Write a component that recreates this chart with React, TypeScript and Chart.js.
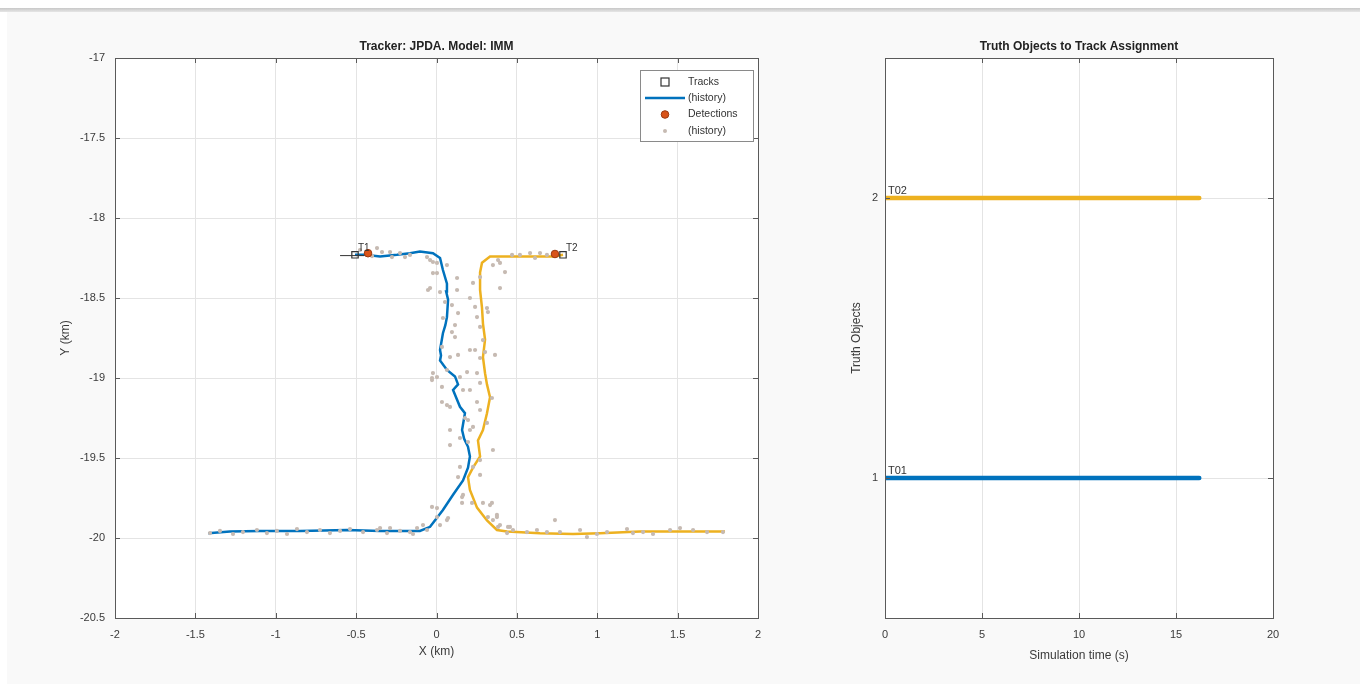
import React, { useEffect, useRef } from "react";
import { Chart, registerables } from "chart.js";

Chart.register(...registerables);

// ---------------- Left plot data (km) ----------------
const blueTrackX = [-1.42, -1.285, -1.098, -0.849, -0.557, -0.351, -0.103, -0.04, 0.04, 0.103, 0.165, 0.196, 0.208, 0.196, 0.172, 0.159, 0.177, 0.146, 0.103, 0.134, 0.115, 0.065, 0.022, 0.028, 0.022, 0.04, 0.055, 0.065, 0.072, 0.06, 0.065, 0.04, 0.022, -0.022, -0.103, -0.165, -0.246, -0.351, -0.445, -0.507];
const blueTrackY = [-19.97, -19.96, -19.956, -19.956, -19.95, -19.956, -19.956, -19.93, -19.825, -19.73, -19.64, -19.56, -19.49, -19.43, -19.38, -19.325, -19.22, -19.18, -19.075, -19.04, -18.99, -18.95, -18.89, -18.86, -18.825, -18.72, -18.67, -18.62, -18.51, -18.46, -18.41, -18.325, -18.25, -18.22, -18.21, -18.22, -18.23, -18.24, -18.23, -18.23];

const yellowTrackX = [1.795, 1.683, 1.266, 1.017, 0.849, 0.644, 0.439, 0.376, 0.314, 0.252, 0.208, 0.196, 0.227, 0.271, 0.258, 0.289, 0.314, 0.333, 0.314, 0.302, 0.289, 0.302, 0.289, 0.283, 0.271, 0.271, 0.283, 0.333, 0.439, 0.519, 0.644, 0.737, 0.787];
const yellowTrackY = [-19.96, -19.96, -19.96, -19.97, -19.975, -19.97, -19.96, -19.95, -19.89, -19.81, -19.7, -19.62, -19.56, -19.49, -19.39, -19.325, -19.22, -19.12, -19.04, -18.97, -18.87, -18.76, -18.66, -18.56, -18.45, -18.34, -18.28, -18.24, -18.24, -18.24, -18.24, -18.24, -18.23];

const detHistX = [-1.409, -1.347, -1.266, -1.204, -1.117, -1.055, -0.993, -0.93, -0.868, -0.806, -0.725, -0.663, -0.6, -0.538, -0.457, -0.37, -0.308, -0.227, -0.146, -0.059, -0.028, 0.003, 0.065,
  -0.351, -0.289, -0.165, -0.121, -0.084, 0.022, 0.003, 0.072,
  -0.028, 0.034, 0.165, 0.208, 0.034, 0.065, 0.084, 0.177, 0.196, 0.084, 0.208, 0.146, 0.196, 0.084, 0.227, 0.252, 0.271, 0.345, 0.314, 0.351, 0.271, 0.227, 0.271, 0.146, 0.134, 0.165, 0.159, 0.221, 0.289, 0.333, 0.376, 0.351, 0.383, 0.445, 0.476,
  -0.289, -0.277, -0.196, -0.059, -0.022, -0.022, 0.003, 0.065, -0.04, -0.053, 0.022, 0.128, 0.128, 0.053, 0.096, 0.134, 0.04, 0.115, 0.096, 0.115, 0.034, 0.084, 0.134, 0.065, -0.022, -0.028, 0.003, 0.146, 0.19,
  0.227, 0.271, 0.208, 0.24, 0.314, 0.32, 0.252, 0.271, 0.289, 0.208, 0.24, 0.302, 0.364, 0.271, 0.252, 0.271, 0.351, 0.395, 0.383, 0.426, 0.395, 0.47,
  -0.37, -0.227, -0.165, -0.04, 0.003, 0.519, 0.582, 0.644, 0.687, 0.613, -0.476, -0.401, -0.339,
  0.159, 0.345, 0.32, 0.376, 0.395, 0.457, 0.439, 0.563, 0.625, 0.737, 0.687, 0.768, 0.893, 0.936, 0.998, 1.061, 1.185, 1.222, 1.285, 1.347, 1.453, 1.515, 1.596, 1.683, 1.782];
const detHistY = [-19.969, -19.956, -19.975, -19.963, -19.95, -19.969, -19.956, -19.975, -19.944, -19.963, -19.95, -19.969, -19.956, -19.944, -19.963, -19.95, -19.969, -19.956, -19.975, -19.95, -19.806, -19.869, -19.888,
  -19.938, -19.938, -19.963, -19.938, -19.919, -19.919, -19.813, -19.875,
  -19.013, -19.056, -19.075, -19.075, -19.15, -19.169, -19.181, -19.25, -19.263, -19.325, -19.325, -19.375, -19.4, -19.419, -19.306, -19.15, -19.2, -19.125, -19.281, -19.45, -19.513, -19.556, -19.606, -19.556, -19.619, -19.731, -19.781, -19.781, -19.781, -19.794, -19.856, -19.888, -19.931, -19.931, -19.95,
  -18.213, -18.244, -18.244, -18.244, -18.275, -18.344, -18.344, -18.294, -18.438, -18.45, -18.463, -18.45, -18.375, -18.525, -18.544, -18.594, -18.625, -18.669, -18.713, -18.744, -18.806, -18.869, -18.856, -18.95, -18.969, -19.0, -18.994, -18.994, -18.963,
  -18.406, -18.369, -18.5, -18.556, -18.563, -18.588, -18.619, -18.681, -18.763, -18.825, -18.825, -18.838, -18.856, -18.875, -18.969, -19.031, -18.294, -18.281, -18.263, -18.338, -18.438, -18.231,
  -18.188, -18.219, -18.231, -18.263, -18.281, -18.231, -18.219, -18.219, -18.231, -18.25, -18.2, -18.238, -18.213,
  -19.744, -19.781, -19.869, -19.869, -19.919, -19.931, -19.969, -19.963, -19.95, -19.888, -19.963, -19.963, -19.95, -19.994, -19.975, -19.963, -19.944, -19.969, -19.963, -19.975, -19.95, -19.938, -19.95, -19.963, -19.963];

const trackX = [-0.507, 0.787];
const trackY = [-18.23, -18.23];
const trackLabels = ["T1", "T2"];
const trackStemX = [-0.6, -0.45];
const trackStemY = [-18.235, -18.235];

const detX = [-0.426, 0.737];
const detY = [-18.22, -18.225];

const leftXTicks = [-2, -1.5, -1, -0.5, 0, 0.5, 1, 1.5, 2];
const leftYTicks = [-20.5, -20, -19.5, -19, -18.5, -18, -17.5, -17];

// ---------------- Right plot data ----------------
const truthIds = [1, 2];
const truthLabels = ["T01", "T02"];
const assignStart = [0, 0];
const assignEnd = [16.2, 16.2];
const rightXTicks = [0, 5, 10, 15, 20];
const rightYTicks = [1, 2];

const BLUE = "#0072BD";
const YELLOW = "#EDB120";
const ORANGE = "#D95319";
const GREY_DOT = "#c6bab2";
const AXIS = "#5a5a5a";
const GRID = "#e4e4e4";
const TXT = "#3a3a3a";
const FONT = "'Liberation Sans', Arial, Helvetica, sans-serif";

Chart.defaults.font.family = FONT;
Chart.defaults.color = TXT;

const pts = (xs: number[], ys: number[]) => xs.map((x, i) => ({ x, y: ys[i] }));

const boxPlugin = {
  id: "matlabBox",
  beforeDraw(chart: any) {
    const { ctx, chartArea: a } = chart;
    ctx.save();
    ctx.fillStyle = "#ffffff";
    ctx.fillRect(a.left, a.top, a.right - a.left, a.bottom - a.top);
    ctx.restore();
  },
  afterDatasetsDraw(chart: any) {
    const { ctx, chartArea: a, scales } = chart;
    ctx.save();
    ctx.strokeStyle = AXIS;
    ctx.lineWidth = 1;
    ctx.strokeRect(Math.round(a.left) + 0.5, Math.round(a.top) + 0.5, Math.round(a.right - a.left), Math.round(a.bottom - a.top));
    const tl = 5;
    ctx.beginPath();
    scales.x.ticks.forEach((t: any) => {
      const px = Math.round(scales.x.getPixelForValue(t.value)) + 0.5;
      ctx.moveTo(px, a.bottom); ctx.lineTo(px, a.bottom - tl);
      ctx.moveTo(px, a.top); ctx.lineTo(px, a.top + tl);
    });
    scales.y.ticks.forEach((t: any) => {
      const py = Math.round(scales.y.getPixelForValue(t.value)) + 0.5;
      ctx.moveTo(a.left, py); ctx.lineTo(a.left + tl, py);
      ctx.moveTo(a.right, py); ctx.lineTo(a.right - tl, py);
    });
    ctx.stroke();
    ctx.restore();
  },
};

const leftDecor = {
  id: "leftDecor",
  afterDraw(chart: any) {
    const { ctx, scales } = chart;
    ctx.save();
    ctx.fillStyle = "#333";
    ctx.font = `10px ${FONT}`;
    ctx.textBaseline = "alphabetic";
    trackLabels.forEach((lab, i) => {
      const px = scales.x.getPixelForValue(trackX[i]);
      const py = scales.y.getPixelForValue(trackY[i]);
      ctx.fillText(lab, px + 3, py - 4);
    });
    // legend
    const L = 640, T = 70, W = 113, H = 71;
    ctx.fillStyle = "#ffffff";
    ctx.fillRect(L, T, W, H);
    ctx.strokeStyle = "#8a8a8a";
    ctx.lineWidth = 1;
    ctx.strokeRect(L + 0.5, T + 0.5, W, H);
    const rows = [82, 98, 114.5, 131];
    const mx = 665;
    ctx.strokeStyle = "#333";
    ctx.lineWidth = 1.2;
    ctx.strokeRect(mx - 4, rows[0] - 4, 8, 8);
    ctx.strokeStyle = BLUE;
    ctx.lineWidth = 2.5;
    ctx.beginPath(); ctx.moveTo(645, rows[1]); ctx.lineTo(685, rows[1]); ctx.stroke();
    ctx.fillStyle = ORANGE;
    ctx.strokeStyle = "#9a3a12";
    ctx.lineWidth = 1;
    ctx.beginPath(); ctx.arc(mx, rows[2], 3.8, 0, Math.PI * 2); ctx.fill(); ctx.stroke();
    ctx.fillStyle = GREY_DOT;
    ctx.beginPath(); ctx.arc(mx, rows[3], 2, 0, Math.PI * 2); ctx.fill();
    ctx.fillStyle = "#333";
    ctx.font = `10.5px ${FONT}`;
    ctx.textBaseline = "middle";
    ["Tracks", "(history)", "Detections", "(history)"].forEach((t, i) => {
      ctx.fillText(t, 688, rows[i]);
    });
    ctx.restore();
  },
};

const rightDecor = {
  id: "rightDecor",
  afterDraw(chart: any) {
    const { ctx, scales } = chart;
    ctx.save();
    ctx.fillStyle = "#333";
    ctx.font = `11px ${FONT}`;
    ctx.textBaseline = "bottom";
    truthLabels.forEach((lab, i) => {
      const px = scales.x.getPixelForValue(assignStart[i]);
      const py = scales.y.getPixelForValue(truthIds[i]);
      ctx.fillText(lab, px + 3, py - 2);
    });
    ctx.restore();
  },
};

const fmt = (v: any) => String(Math.round(Number(v) * 10) / 10);

function makeScales(opts: any) {
  const { xMin, xMax, xStep, yMin, yMax, yTicks, yWidth, xTitle, yTitle, xTitlePad, yTitlePad, yTickPad, xTicks } = opts;
  return {
    x: {
      type: "linear",
      min: xMin,
      max: xMax,
      afterBuildTicks: (s: any) => { s.ticks = xTicks.map((v: number) => ({ value: v })); },
      afterFit: (s: any) => { s.height = 66; },
      ticks: { stepSize: xStep, callback: fmt, padding: 10, maxRotation: 0, autoSkip: false, font: { size: 11 }, color: TXT },
      grid: { color: GRID, drawTicks: false },
      border: { display: false },
      title: { display: true, text: xTitle, font: { size: 12 }, color: TXT, padding: { top: 0, bottom: xTitlePad } },
    },
    y: {
      type: "linear",
      min: yMin,
      max: yMax,
      afterBuildTicks: (s: any) => { s.ticks = yTicks.map((v: number) => ({ value: v })); },
      afterFit: (s: any) => { s.width = yWidth; },
      ticks: { callback: fmt, padding: yTickPad, autoSkip: false, font: { size: 11 }, color: TXT },
      grid: { color: GRID, drawTicks: false },
      border: { display: false },
      title: { display: true, text: yTitle, font: { size: 12 }, color: TXT, padding: { top: yTitlePad, bottom: 0 } },
    },
  };
}

function LeftChart() {
  const ref = useRef<HTMLCanvasElement>(null);
  useEffect(() => {
    if (!ref.current) return;
    const chart = new Chart(ref.current, {
      type: "scatter",
      data: {
        datasets: [
          { label: "Tracks", data: pts(trackX, trackY), pointStyle: "rect", pointRadius: 4.5, backgroundColor: "rgba(0,0,0,0)", borderColor: "#333", borderWidth: 1.2 },
          { label: "stem", data: pts(trackStemX, trackStemY), showLine: true, pointRadius: 0, borderColor: "#333", borderWidth: 1 },
          { label: "Detections", data: pts(detX, detY), pointRadius: 3.8, backgroundColor: ORANGE, borderColor: "#9a3a12", borderWidth: 1 },
          { label: "(history)", data: pts(detHistX, detHistY), pointRadius: 2.1, backgroundColor: GREY_DOT, borderWidth: 0 },
          { label: "T1 history", data: pts(blueTrackX, blueTrackY), showLine: true, pointRadius: 0, borderColor: BLUE, borderWidth: 2.5 },
          { label: "T2 history", data: pts(yellowTrackX, yellowTrackY), showLine: true, pointRadius: 0, borderColor: YELLOW, borderWidth: 2.5 },
        ],
      },
      options: {
        responsive: false,
        animation: false,
        devicePixelRatio: 1,
        layout: { padding: { left: 0, right: 32, top: 0, bottom: 0 } },
        plugins: {
          legend: { display: false },
          tooltip: { enabled: false },
          title: { display: true, fullSize: false, text: "Tracker: JPDA. Model: IMM", font: { size: 12, weight: "bold" }, color: "#222", padding: { top: 39, bottom: 4.6 } },
        },
        scales: makeScales({ xMin: -2, xMax: 2, xStep: 0.5, yMin: -20.5, yMax: -17, yTicks: leftYTicks, xTicks: leftXTicks, yWidth: 115, xTitle: "X (km)", yTitle: "Y (km)", xTitlePad: 25, yTitlePad: 58, yTickPad: 10 }) as any,
      },
      plugins: [boxPlugin, leftDecor],
    } as any);
    return () => chart.destroy();
  }, []);
  return <canvas ref={ref} width={790} height={684} style={{ position: "absolute", left: 0, top: 0 }} />;
}

function RightChart() {
  const ref = useRef<HTMLCanvasElement>(null);
  useEffect(() => {
    if (!ref.current) return;
    const datasets = truthIds.map((id, i) => ({
      label: truthLabels[i],
      data: [{ x: assignStart[i], y: id }, { x: assignEnd[i], y: id }],
      showLine: true,
      pointRadius: 0,
      borderColor: i === 0 ? BLUE : YELLOW,
      borderWidth: 4.5,
      borderCapStyle: "round",
    }));
    const chart = new Chart(ref.current, {
      type: "scatter",
      data: { datasets },
      options: {
        responsive: false,
        animation: false,
        devicePixelRatio: 1,
        layout: { padding: { left: 0, right: 87, top: 0, bottom: 0 } },
        plugins: {
          legend: { display: false },
          tooltip: { enabled: false },
          title: { display: true, fullSize: false, text: "Truth Objects to Track Assignment", font: { size: 12, weight: "bold" }, color: "#222", padding: { top: 39, bottom: 4.6 } },
        },
        scales: makeScales({ xMin: 0, xMax: 20, xStep: 5, yMin: 0.5, yMax: 2.5, yTicks: rightYTicks, xTicks: rightXTicks, yWidth: 85, xTitle: "Simulation time (s)", yTitle: "Truth Objects", xTitlePad: 21, yTitlePad: 49, yTickPad: 7 }) as any,
      },
      plugins: [boxPlugin, rightDecor],
    } as any);
    return () => chart.destroy();
  }, []);
  return <canvas ref={ref} width={560} height={684} style={{ position: "absolute", left: 800, top: 0 }} />;
}

export default function App() {
  return (
    <div style={{ position: "fixed", left: 0, top: 0, width: 1360, height: 684, background: "#ffffff", overflow: "hidden" }}>
      <div style={{ position: "absolute", left: 0, top: 8, width: 1360, height: 4, background: "linear-gradient(#c8c8c8, #e6e6e6)" }} />
      <div style={{ position: "absolute", left: 7, top: 12, right: 0, bottom: 0, background: "#f9f9f9" }} />
      <LeftChart />
      <RightChart />
    </div>
  );
}
